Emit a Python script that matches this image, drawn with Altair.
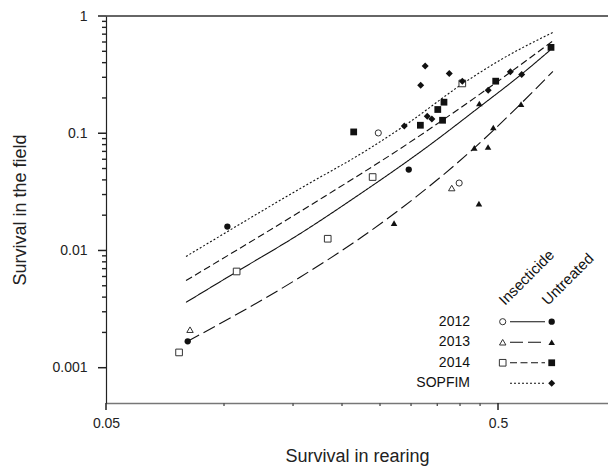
import altair as alt
import pandas as pd

# ---------------- data ----------------
series_names = ["2012", "2013", "2014", "SOPFIM"]
treatments = ["Insecticide", "Untreated"]
column_headers = ["Insecticide", "Untreated"]

# observed points (survival in rearing, survival in the field)
ins_2012_x = [0.2475, 0.398]
ins_2012_y = [0.1006, 0.0376]
untr_2012_x = [0.102, 0.296, 0.0808]
untr_2012_y = [0.0160, 0.0490, 0.00168]

ins_2013_x = [0.0819, 0.381]
ins_2013_y = [0.00211, 0.0341]
untr_2013_x = [0.448, 0.5724, 0.4863, 0.435, 0.4716, 0.447, 0.2715]
untr_2013_y = [0.1794, 0.177, 0.1119, 0.0749, 0.0763, 0.0251, 0.0171]

ins_2014_x = [0.4054, 0.2394, 0.1839, 0.1077, 0.0768]
ins_2014_y = [0.266, 0.0423, 0.01259, 0.00662, 0.00135]
untr_2014_x = [0.2142, 0.3169, 0.364, 0.351, 0.361, 0.4933, 0.6826]
untr_2014_y = [0.1026, 0.117, 0.184, 0.1594, 0.129, 0.278, 0.540]

sopfim_x = [0.326, 0.3755, 0.3175, 0.4054, 0.2884, 0.330, 0.339, 0.472, 0.5376, 0.5747]
sopfim_y = [0.374, 0.3237, 0.257, 0.278, 0.1154, 0.1397, 0.1325, 0.2331, 0.334, 0.3176]

# fitted curves
curve_2012_x = [0.0800, 0.1077, 0.1563, 0.218, 0.329, 0.447, 0.575, 0.679]
curve_2012_y = [0.00361, 0.00658, 0.0139, 0.0290, 0.0760, 0.1661, 0.320, 0.511]
curve_2013_x = [0.0808, 0.1563, 0.2266, 0.310, 0.4325, 0.575, 0.690]
curve_2013_y = [0.00168, 0.00591, 0.01327, 0.0289, 0.0736, 0.1819, 0.3368]
curve_2014_x = [0.0800, 0.1792, 0.2811, 0.361, 0.472, 0.690]
curve_2014_y = [0.00554, 0.02843, 0.0736, 0.1292, 0.2419, 0.6126]
curve_sop_x = [0.0800, 0.1563, 0.2312, 0.288, 0.405, 0.506, 0.696]
curve_sop_y = [0.00889, 0.0337, 0.0716, 0.1154, 0.2624, 0.4203, 0.734]

# axis ticks
x_major = [0.05, 0.5]
x_minor = [0.1, 0.15, 0.2, 0.25, 0.3, 0.35, 0.4, 0.45]
y_major = [0.001, 0.01, 0.1, 1]
y_minor = [m * d for d in [0.001, 0.01, 0.1] for m in range(2, 10)]


# ---------------- tables ----------------
def pts(xs, ys, series, treatment):
    return pd.DataFrame({"x": xs, "y": ys, "series": series, "treatment": treatment})


points = pd.concat([
    pts(ins_2012_x, ins_2012_y, "2012", "Insecticide"),
    pts(ins_2013_x, ins_2013_y, "2013", "Insecticide"),
    pts(ins_2014_x, ins_2014_y, "2014", "Insecticide"),
    pts(untr_2012_x, untr_2012_y, "2012", "Untreated"),
    pts(untr_2013_x, untr_2013_y, "2013", "Untreated"),
    pts(untr_2014_x, untr_2014_y, "2014", "Untreated"),
    pts(sopfim_x, sopfim_y, "SOPFIM", "Untreated"),
], ignore_index=True)
points["key"] = points["series"] + " " + points["treatment"]

curves = pd.concat([
    pd.DataFrame({"x": curve_2012_x, "y": curve_2012_y, "series": "2012"}),
    pd.DataFrame({"x": curve_2013_x, "y": curve_2013_y, "series": "2013"}),
    pd.DataFrame({"x": curve_2014_x, "y": curve_2014_y, "series": "2014"}),
    pd.DataFrame({"x": curve_sop_x, "y": curve_sop_y, "series": "SOPFIM"}),
], ignore_index=True)

legend_df = pd.DataFrame({"series": series_names})
legend_df["key_open"] = legend_df["series"] + " Insecticide"
legend_df["key_filled"] = legend_df["series"] + " Untreated"

# ---------------- scales ----------------
W, H = 502, 387
key_domain = [f"{s} {t}" for s in series_names for t in treatments]
size_scale = alt.Scale(domain=key_domain, range=[38, 49, 40, 56, 36, 56, 36, 64])
shape_scale = alt.Scale(domain=series_names,
                        range=["circle", "triangle-up", "square", "diamond"])
dash_scale = alt.Scale(domain=series_names,
                       range=[[1, 0], [13, 5], [7, 3.5], [2, 2]])

FONT = "Liberation Sans"
INK = "#111111"
TICK = "#222222"

x_enc = alt.X(
    "x:Q",
    scale=alt.Scale(type="log", domain=[0.05, 0.954], nice=False, zero=False),
    axis=alt.Axis(
        values=x_major, format="~g", ticks=False,
        domainColor="#777777", domainWidth=1.5, grid=False,
        labelFont=FONT, labelFontSize=14, labelColor="#222222",
        labelPadding=13, labelFlush=False, labelOverlap=False,
        title="Survival in rearing",
        titleFont=FONT, titleFontSize=18, titleFontWeight="normal",
        titleColor="#222222", titlePadding=17,
    ),
)
y_enc = alt.Y(
    "y:Q",
    scale=alt.Scale(type="log", domain=[0.0005, 1], nice=False, zero=False),
    axis=alt.Axis(
        values=y_major, format="~g", ticks=False,
        domainColor="#222222", domainWidth=1.2, grid=False,
        labelFont=FONT, labelFontSize=14, labelColor="#222222",
        labelPadding=19, labelFlush=False, labelOverlap=False,
        title="Survival in the field",
        titleFont=FONT, titleFontSize=18, titleFontWeight="normal",
        titleColor="#222222", titlePadding=22,
    ),
)

# ---------------- plot layers ----------------
lines = alt.Chart(curves).mark_line(color=INK, strokeWidth=1.1, interpolate="monotone").encode(
    x=x_enc, y=y_enc,
    strokeDash=alt.StrokeDash("series:N", scale=dash_scale, legend=None),
)

open_pts = alt.Chart(points).transform_filter(
    alt.datum.treatment == "Insecticide"
).mark_point(filled=False, fill="white", stroke="#333333", strokeWidth=1, opacity=1).encode(
    x=x_enc, y=y_enc,
    shape=alt.Shape("series:N", scale=shape_scale, legend=None),
    size=alt.Size("key:N", scale=size_scale, legend=None),
)

filled_pts = alt.Chart(points).transform_filter(
    alt.datum.treatment == "Untreated"
).mark_point(filled=True, color=INK, opacity=1).encode(
    x=x_enc, y=y_enc,
    shape=alt.Shape("series:N", scale=shape_scale, legend=None),
    size=alt.Size("key:N", scale=size_scale, legend=None),
)

# axis tick marks (major and minor), placed through the scales
y_major_ticks = alt.Chart(pd.DataFrame({"y": y_major})).mark_rule(
    color=TICK, strokeWidth=1.5).encode(y=y_enc, x=alt.value(-8), x2=alt.value(0))
y_minor_ticks = alt.Chart(pd.DataFrame({"y": y_minor})).mark_rule(
    color=TICK, strokeWidth=1.4).encode(y=y_enc, x=alt.value(-4), x2=alt.value(0))
x_major_ticks = alt.Chart(pd.DataFrame({"x": x_major})).mark_rule(
    color=TICK, strokeWidth=1.5).encode(x=x_enc, y=alt.value(H), y2=alt.value(H + 7))
x_minor_ticks = alt.Chart(pd.DataFrame({"x": x_minor})).mark_rule(
    color="#555555", strokeWidth=1.4).encode(x=x_enc, y=alt.value(H), y2=alt.value(H + 3))

top_frame = alt.Chart(pd.DataFrame({"edge": ["top"]})).mark_rule(
    color="#333333", strokeWidth=1.3
).encode(x=alt.value(0), x2=alt.value("width"), y=alt.value(0))

plot = alt.layer(lines, open_pts, filled_pts,
                 y_major_ticks, y_minor_ticks, x_major_ticks, x_minor_ticks, top_frame)

# ---------------- legend layers ----------------
leg_y = alt.Y("series:N",
              scale=alt.Scale(type="point", domain=series_names,
                              range=[305.7, 367.3], padding=0),
              axis=None)

leg_text = alt.Chart(legend_df).mark_text(
    align="right", baseline="middle", font=FONT, fontSize=14, color=INK
).encode(x=alt.value(364), y=leg_y, text="series:N")

leg_lines = alt.Chart(legend_df).mark_rule(color=INK, strokeWidth=1.1).encode(
    x=alt.value(404), x2=alt.value(439), y=leg_y,
    strokeDash=alt.StrokeDash("series:N", scale=dash_scale, legend=None),
)

leg_open = alt.Chart(legend_df).transform_filter(
    alt.datum.series != "SOPFIM"
).mark_point(filled=False, fill="white", stroke="#333333", strokeWidth=1, opacity=1).encode(
    x=alt.value(396.7), y=leg_y,
    shape=alt.Shape("series:N", scale=shape_scale, legend=None),
    size=alt.Size("key_open:N", scale=size_scale, legend=None),
)

leg_filled = alt.Chart(legend_df).mark_point(filled=True, color=INK, opacity=1).encode(
    x=alt.value(445.7), y=leg_y,
    shape=alt.Shape("series:N", scale=shape_scale, legend=None),
    size=alt.Size("key_filled:N", scale=size_scale, legend=None),
)

head_ins = alt.Chart(pd.DataFrame({"label": [column_headers[0]]})).mark_text(
    angle=315, align="left", baseline="alphabetic", font=FONT, fontSize=15, color=INK
).encode(x=alt.value(399), y=alt.value(290), text="label:N")

head_untr = alt.Chart(pd.DataFrame({"label": [column_headers[1]]})).mark_text(
    angle=315, align="left", baseline="alphabetic", font=FONT, fontSize=15, color=INK
).encode(x=alt.value(442), y=alt.value(290), text="label:N")

legend = alt.layer(leg_lines, leg_open, leg_filled, leg_text, head_ins, head_untr)

chart = alt.layer(plot, legend).resolve_scale(y="independent").properties(
    width=W,
    height=H,
    autosize=alt.AutoSizeParams(type="none"),
    padding={"left": 106, "top": 16, "right": 0, "bottom": 65},
    background="white",
).configure_view(stroke=None)

chart.save("out.html", embed_options={"renderer": "svg", "actions": False})
